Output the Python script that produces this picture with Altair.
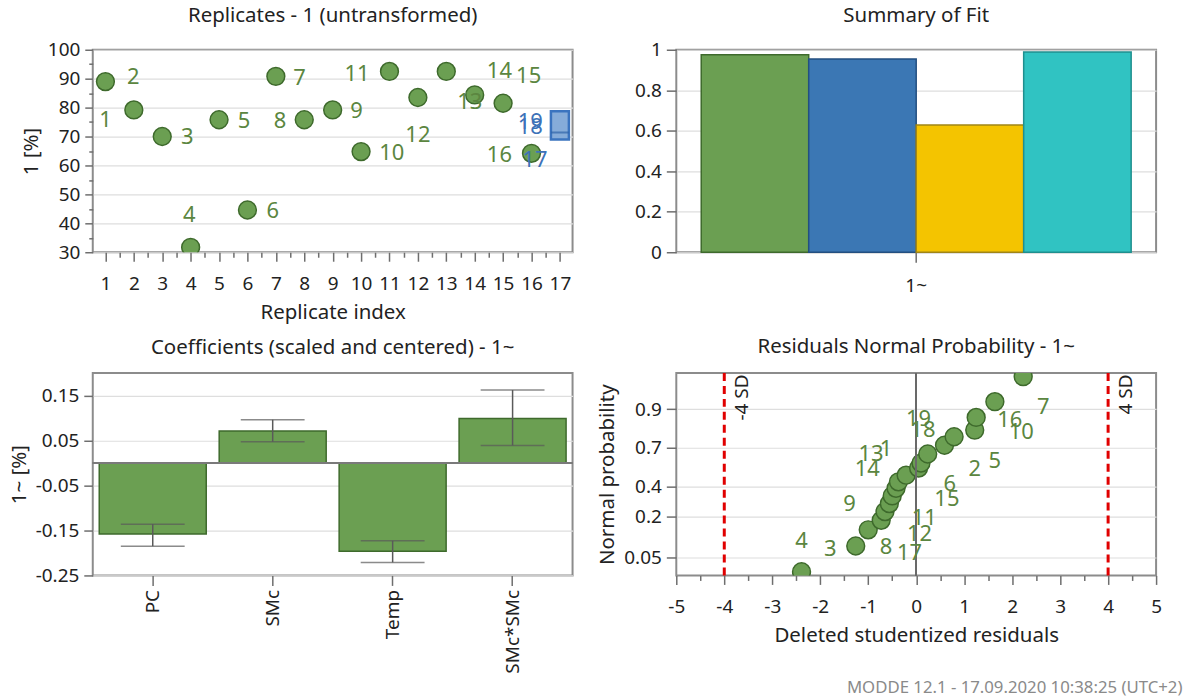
import altair as alt
import pandas as pd
from statistics import NormalDist

# ---------------- shared style ----------------
FONT = "Noto Sans"
PANEL_W, PANEL_H = 481, 203
GREEN_FILL = "#6b9f52"
GREEN_EDGE = "#3e6a2c"
GREEN_TEXT = "#5b8640"
BLUE_TEXT = "#3d72b8"
FRAME_GRAY = "#8c8c8c"
GRID_GRAY = "#dedede"
TICK_GRAY = "#6e6e6e"
INK = "#222222"
TICK_FS = 19
TITLE_FS = 20.5
LABEL_FS = 22

# ---------------- Replicates - 1 (untransformed) ----------------
replicate_index = list(range(1, 17))
replicate_value = [89.0, 79.2, 70.0, 31.7, 75.8, 44.6, 90.8, 75.8,
                   79.2, 64.8, 92.5, 83.5, 92.5, 84.4, 81.5, 64.2]
rep_label_text = ["1", "2", "3", "4", "5", "6", "7", "8", "9", "10",
                  "11", "12", "13", "14", "15", "16", "17", "18", "19"]
rep_label_x = [1.0, 1.98, 3.88, 3.95, 5.88, 6.89, 7.83, 7.15, 9.84, 11.08,
               9.86, 12.0, 13.83, 14.87, 15.9, 14.87, 16.12, 15.96, 15.96]
rep_label_y = [75.8, 90.5, 69.8, 42.9, 75.2, 44.1, 90.2, 75.2, 78.7, 64.2,
               91.7, 70.6, 82.1, 92.8, 90.8, 63.7, 61.8, 73.4, 74.9]
rep_label_kind = ["run"] * 16 + ["center"] * 3
center_index = [17]
center_low = [69.0]
center_high = [78.7]
center_mid = [71.4]

rep_x_ticks = [v / 2 for v in range(2, 35)]
rep_y_ticks = list(range(30, 101, 5))

# ---------------- Summary of Fit ----------------
fit_response = ["1~"] * 4
fit_metric = ["R2", "Q2", "Model validity", "Reproducibility"]
fit_value = [0.975, 0.954, 0.628, 0.989]
fit_fill = ["#6b9f52", "#3b77b4", "#f4c400", "#30c3c2"]
fit_edge = ["#3e6a2c", "#234f80", "#a08516", "#1f8f8e"]

# ---------------- Coefficients ----------------
coef_term = ["PC", "SMc", "Temp", "SMc*SMc"]
coef_value = [-0.158, 0.071, -0.196, 0.099]
coef_low = [-0.185, 0.047, -0.221, 0.039]
coef_high = [-0.136, 0.096, -0.173, 0.162]
coef_ticks = [-0.25, -0.15, -0.05, 0.05, 0.15]

# ---------------- Residuals normal probability ----------------
res_value = [-2.39, -1.26, -1.00, -0.73, -0.65, -0.56, -0.50, -0.42, -0.37, -0.21,
             0.05, 0.10, 0.24, 0.59, 0.79, 1.22, 1.25, 1.64, 2.23]
res_prob = [0.027, 0.078, 0.136, 0.181, 0.230, 0.281, 0.334, 0.390, 0.440, 0.492,
            0.548, 0.587, 0.655, 0.716, 0.770, 0.808, 0.869, 0.924, 0.973]
res_label_text = ["4", "3", "8", "17", "12", "11", "9", "15", "6", "14",
                  "13", "1", "2", "5", "19", "18", "16", "10", "7"]
res_label_x = [-2.39, -1.79, -0.63, -0.14, 0.07, 0.17, -1.39, 0.64, 0.70, -1.02,
               -0.94, -0.63, 1.22, 1.64, 0.05, 0.14, 1.95, 2.19, 2.65]
res_label_prob = [0.095, 0.071, 0.075, 0.059, 0.119, 0.192, 0.281, 0.309, 0.425, 0.544,
                  0.652, 0.691, 0.544, 0.606, 0.864, 0.808, 0.858, 0.797, 0.908]
sd_limits = [-4, 4]
sd_text = ["-4 SD", "4 SD"]
sd_text_x = [-3.62, 4.38]
sd_text_z = [1.97, 1.97]
prob_ticks = [0.05, 0.2, 0.4, 0.7, 0.9]
res_x_ticks = [v / 2 for v in range(-10, 11)]

# ---------------- helpers ----------------
def minor_cond(test, minor, major):
    return {"condition": {"test": test, "value": minor}, "value": major}


def title(text):
    return alt.TitleParams(text, fontSize=TITLE_FS, font=FONT, fontWeight="normal",
                           color=INK, offset=14, anchor="middle")


HALF = "datum.value % 1 !== 0"
SIGNED = "(datum.value < 0 ? '-' : '') + format(abs(datum.value), '{}')"

# ======== panel 1 : replicates ========
rep_df = pd.DataFrame({"idx": replicate_index, "value": replicate_value})
rep_lab_df = pd.DataFrame({"x": rep_label_x, "y": rep_label_y,
                           "text": rep_label_text, "kind": rep_label_kind})
center_df = pd.DataFrame({"idx": center_index, "low": center_low,
                          "high": center_high, "mid": center_mid})

rx = alt.Scale(domain=[0.73, 17.27], nice=False, zero=False)
ry = alt.Scale(domain=[30, 100], nice=False, zero=False)
rep_xaxis = alt.Axis(values=rep_x_ticks, title="Replicate index",
                     labelExpr="datum.value % 1 ? '' : format(datum.value, 'd')",
                     tickSize=minor_cond(HALF, 5, 9), grid=False,
                     labelOverlap=False, labelFlush=False)
rep_yaxis = alt.Axis(values=rep_y_ticks, title="1 [%]",
                     labelExpr="datum.value % 10 ? '' : format(datum.value, 'd')",
                     tickSize=minor_cond("datum.value % 10 !== 0", 4, 8),
                     gridOpacity=minor_cond("datum.value % 10 !== 0", 0, 1),
                     labelOverlap=False)


def rep_x(field):
    return alt.X(field, scale=rx, axis=rep_xaxis)


def rep_y(field):
    return alt.Y(field, scale=ry, axis=rep_yaxis)


rep_box = alt.Chart(center_df).mark_bar(
    width=18, color="#86acd9", stroke="#3b74bf", strokeWidth=2.5, clip=True
).encode(x=rep_x("idx:Q"), y=rep_y("low:Q"), y2="high:Q")

rep_mid = alt.Chart(center_df).mark_tick(
    orient="horizontal", size=18, thickness=2, color="#2f64a8", clip=True
).encode(x=rep_x("idx:Q"), y=rep_y("mid:Q"))

rep_pts = alt.Chart(rep_df).mark_circle(
    size=320, color=GREEN_FILL, stroke=GREEN_EDGE, strokeWidth=1.5, opacity=1, clip=True
).encode(x=rep_x("idx:Q"), y=rep_y("value:Q"))

rep_text = alt.Chart(rep_lab_df).mark_text(
    font=FONT, fontSize=LABEL_FS, baseline="middle", align="center"
).encode(x=rep_x("x:Q"), y=rep_y("y:Q"), text="text:N",
         color=alt.Color("kind:N", scale=alt.Scale(domain=["run", "center"],
                                                   range=[GREEN_TEXT, BLUE_TEXT]),
                         legend=None))

panel_rep = alt.layer(rep_box, rep_mid, rep_pts, rep_text).properties(
    width=PANEL_W, height=PANEL_H, title=title("Replicates - 1 (untransformed)"))

# ======== panel 2 : summary of fit ========
fit_df = pd.DataFrame({"response": fit_response, "metric": fit_metric, "value": fit_value})
panel_fit = alt.Chart(fit_df).mark_bar(strokeWidth=1.5).encode(
    x=alt.X("response:N", title=None,
            scale=alt.Scale(paddingInner=0, paddingOuter=0),
            axis=alt.Axis(labelAngle=0, tickSize=10, labelPadding=14)),
    xOffset=alt.XOffset("metric:N", sort=fit_metric,
                        scale=alt.Scale(paddingInner=0, paddingOuter=0.232)),
    y=alt.Y("value:Q", title=None, scale=alt.Scale(domain=[0, 1], nice=False),
            axis=alt.Axis(values=[0, 0.2, 0.4, 0.6, 0.8, 1], format=".1~f", tickSize=10)),
    fill=alt.Fill("metric:N", scale=alt.Scale(domain=fit_metric, range=fit_fill), legend=None),
    stroke=alt.Stroke("metric:N", scale=alt.Scale(domain=fit_metric, range=fit_edge), legend=None),
).properties(width=PANEL_W, height=PANEL_H, title=title("Summary of Fit"))

# ======== panel 3 : coefficients ========
coef_df = pd.DataFrame({"term": coef_term, "coef": coef_value,
                        "low": coef_low, "high": coef_high})
cx = alt.X("term:N", sort=coef_term, title=None,
           scale=alt.Scale(paddingInner=0.108, paddingOuter=0.054),
           axis=alt.Axis(labelAngle=-90, labelAlign="right", labelBaseline="middle",
                         tickSize=10, labelPadding=4))
cy_scale = alt.Scale(domain=[-0.25, 0.2], nice=False, zero=False)
coef_bars = alt.Chart(coef_df).mark_bar(
    color=GREEN_FILL, stroke=GREEN_EDGE, strokeWidth=1.5
).encode(
    x=cx,
    y=alt.Y("coef:Q", scale=cy_scale, title="1~ [%]",
            axis=alt.Axis(values=coef_ticks, tickSize=9, labelExpr=SIGNED.format(".2f"))),
    y2=alt.datum(0),
)
coef_zero = alt.Chart(coef_df).mark_rule(color="#7a7a7a", strokeWidth=2).encode(
    y=alt.datum(0, scale=cy_scale))
coef_err = alt.Chart(coef_df).mark_rule(color="#5a5a5a", strokeWidth=1.5).encode(
    x=alt.X("term:N", sort=coef_term), y=alt.Y("low:Q", scale=cy_scale), y2="high:Q")
coef_cap_lo = alt.Chart(coef_df).mark_tick(
    orient="horizontal", size=64, thickness=1.5, color="#5a5a5a"
).encode(x=alt.X("term:N", sort=coef_term), y=alt.Y("low:Q", scale=cy_scale))
coef_cap_hi = alt.Chart(coef_df).mark_tick(
    orient="horizontal", size=64, thickness=1.5, color="#5a5a5a"
).encode(x=alt.X("term:N", sort=coef_term), y=alt.Y("high:Q", scale=cy_scale))

panel_coef = alt.layer(coef_bars, coef_zero, coef_err, coef_cap_lo, coef_cap_hi).properties(
    width=PANEL_W, height=PANEL_H, title=title("Coefficients (scaled and centered) - 1~"))

# ======== panel 4 : residuals normal probability ========
nd = NormalDist()
prob_tick_z = [nd.inv_cdf(p) for p in prob_ticks]

res_df = pd.DataFrame({"res": res_value, "p": res_prob})
res_lab_df = pd.DataFrame({"x": res_label_x, "p": res_label_prob, "text": res_label_text})
sd_df = pd.DataFrame({"x": sd_limits, "tx": sd_text_x, "tz": sd_text_z, "text": sd_text})

nx = alt.Scale(domain=[-5, 5], nice=False, zero=False)
nz = alt.Scale(domain=[-2, 2], nice=False, zero=False)
res_xaxis = alt.Axis(values=res_x_ticks, title="Deleted studentized residuals",
                     labelExpr="datum.value % 1 ? '' : (" + SIGNED.format("d") + ")",
                     tickSize=minor_cond(HALF, 5, 9),
                     gridOpacity=minor_cond(HALF, 0, 1),
                     labelOverlap=False, labelFlush=False)
res_yaxis = alt.Axis(values=prob_tick_z, title="Normal probability", tickSize=10,
                     labelExpr="format(cumulativeNormal(datum.value), '.2~f')",
                     labelOverlap=False)


def res_x(field):
    return alt.X(field, scale=nx, axis=res_xaxis)


def res_y(field):
    return alt.Y(field, scale=nz, axis=res_yaxis)


res_pts = alt.Chart(res_df).transform_calculate(
    z="quantileNormal(datum.p)"
).mark_circle(size=320, color=GREEN_FILL, stroke=GREEN_EDGE, strokeWidth=1.5,
              opacity=1, clip=True).encode(x=res_x("res:Q"), y=res_y("z:Q"))
res_zero = alt.Chart(res_df).mark_rule(color="#6a6a6a", strokeWidth=1.5).encode(
    x=alt.datum(0, scale=nx, axis=res_xaxis))
res_sd = alt.Chart(sd_df).mark_rule(color="#e00000", strokeWidth=3, strokeDash=[8, 5]).encode(
    x=res_x("x:Q"))
res_sd_text = alt.Chart(sd_df).mark_text(
    font=FONT, fontSize=TICK_FS, angle=270, align="right", baseline="middle", color=INK
).encode(x=res_x("tx:Q"), y=res_y("tz:Q"), text="text:N")
res_text = alt.Chart(res_lab_df).transform_calculate(
    z="quantileNormal(datum.p)"
).mark_text(font=FONT, fontSize=LABEL_FS, color=GREEN_TEXT, baseline="middle").encode(
    x=res_x("x:Q"), y=res_y("z:Q"), text="text:N")

panel_res = alt.layer(res_pts, res_zero, res_sd, res_sd_text, res_text).properties(
    width=PANEL_W, height=PANEL_H, title=title("Residuals Normal Probability - 1~"))

# ======== assemble ========
chart = alt.concat(
    panel_rep, panel_fit, panel_coef, panel_res, columns=2,
    spacing={"row": 12, "column": 22},
).properties(
    title=alt.TitleParams("MODDE 12.1 - 17.09.2020 10:38:25 (UTC+2)", orient="bottom",
                          anchor="end", fontSize=16.8, font=FONT, fontWeight="normal",
                          color="#8a8a8a", offset=6, dx=20),
    padding={"left": 8, "top": 4, "right": 10, "bottom": 2},
).configure_view(
    stroke=FRAME_GRAY, strokeWidth=2
).configure_axis(
    labelFont=FONT, titleFont=FONT, labelFontSize=TICK_FS, titleFontSize=TITLE_FS,
    labelColor=INK, titleColor=INK, titleFontWeight="normal", labelOverlap=False,
    domain=False, tickColor=TICK_GRAY, tickWidth=1.5,
    gridColor=GRID_GRAY, gridWidth=1.2, labelPadding=5, titlePadding=6,
).configure_axisX(grid=False, labelPadding=13, titlePadding=9).configure_axisY(grid=True)

chart.save("out.html", embed_options={"renderer": "svg", "actions": False})
